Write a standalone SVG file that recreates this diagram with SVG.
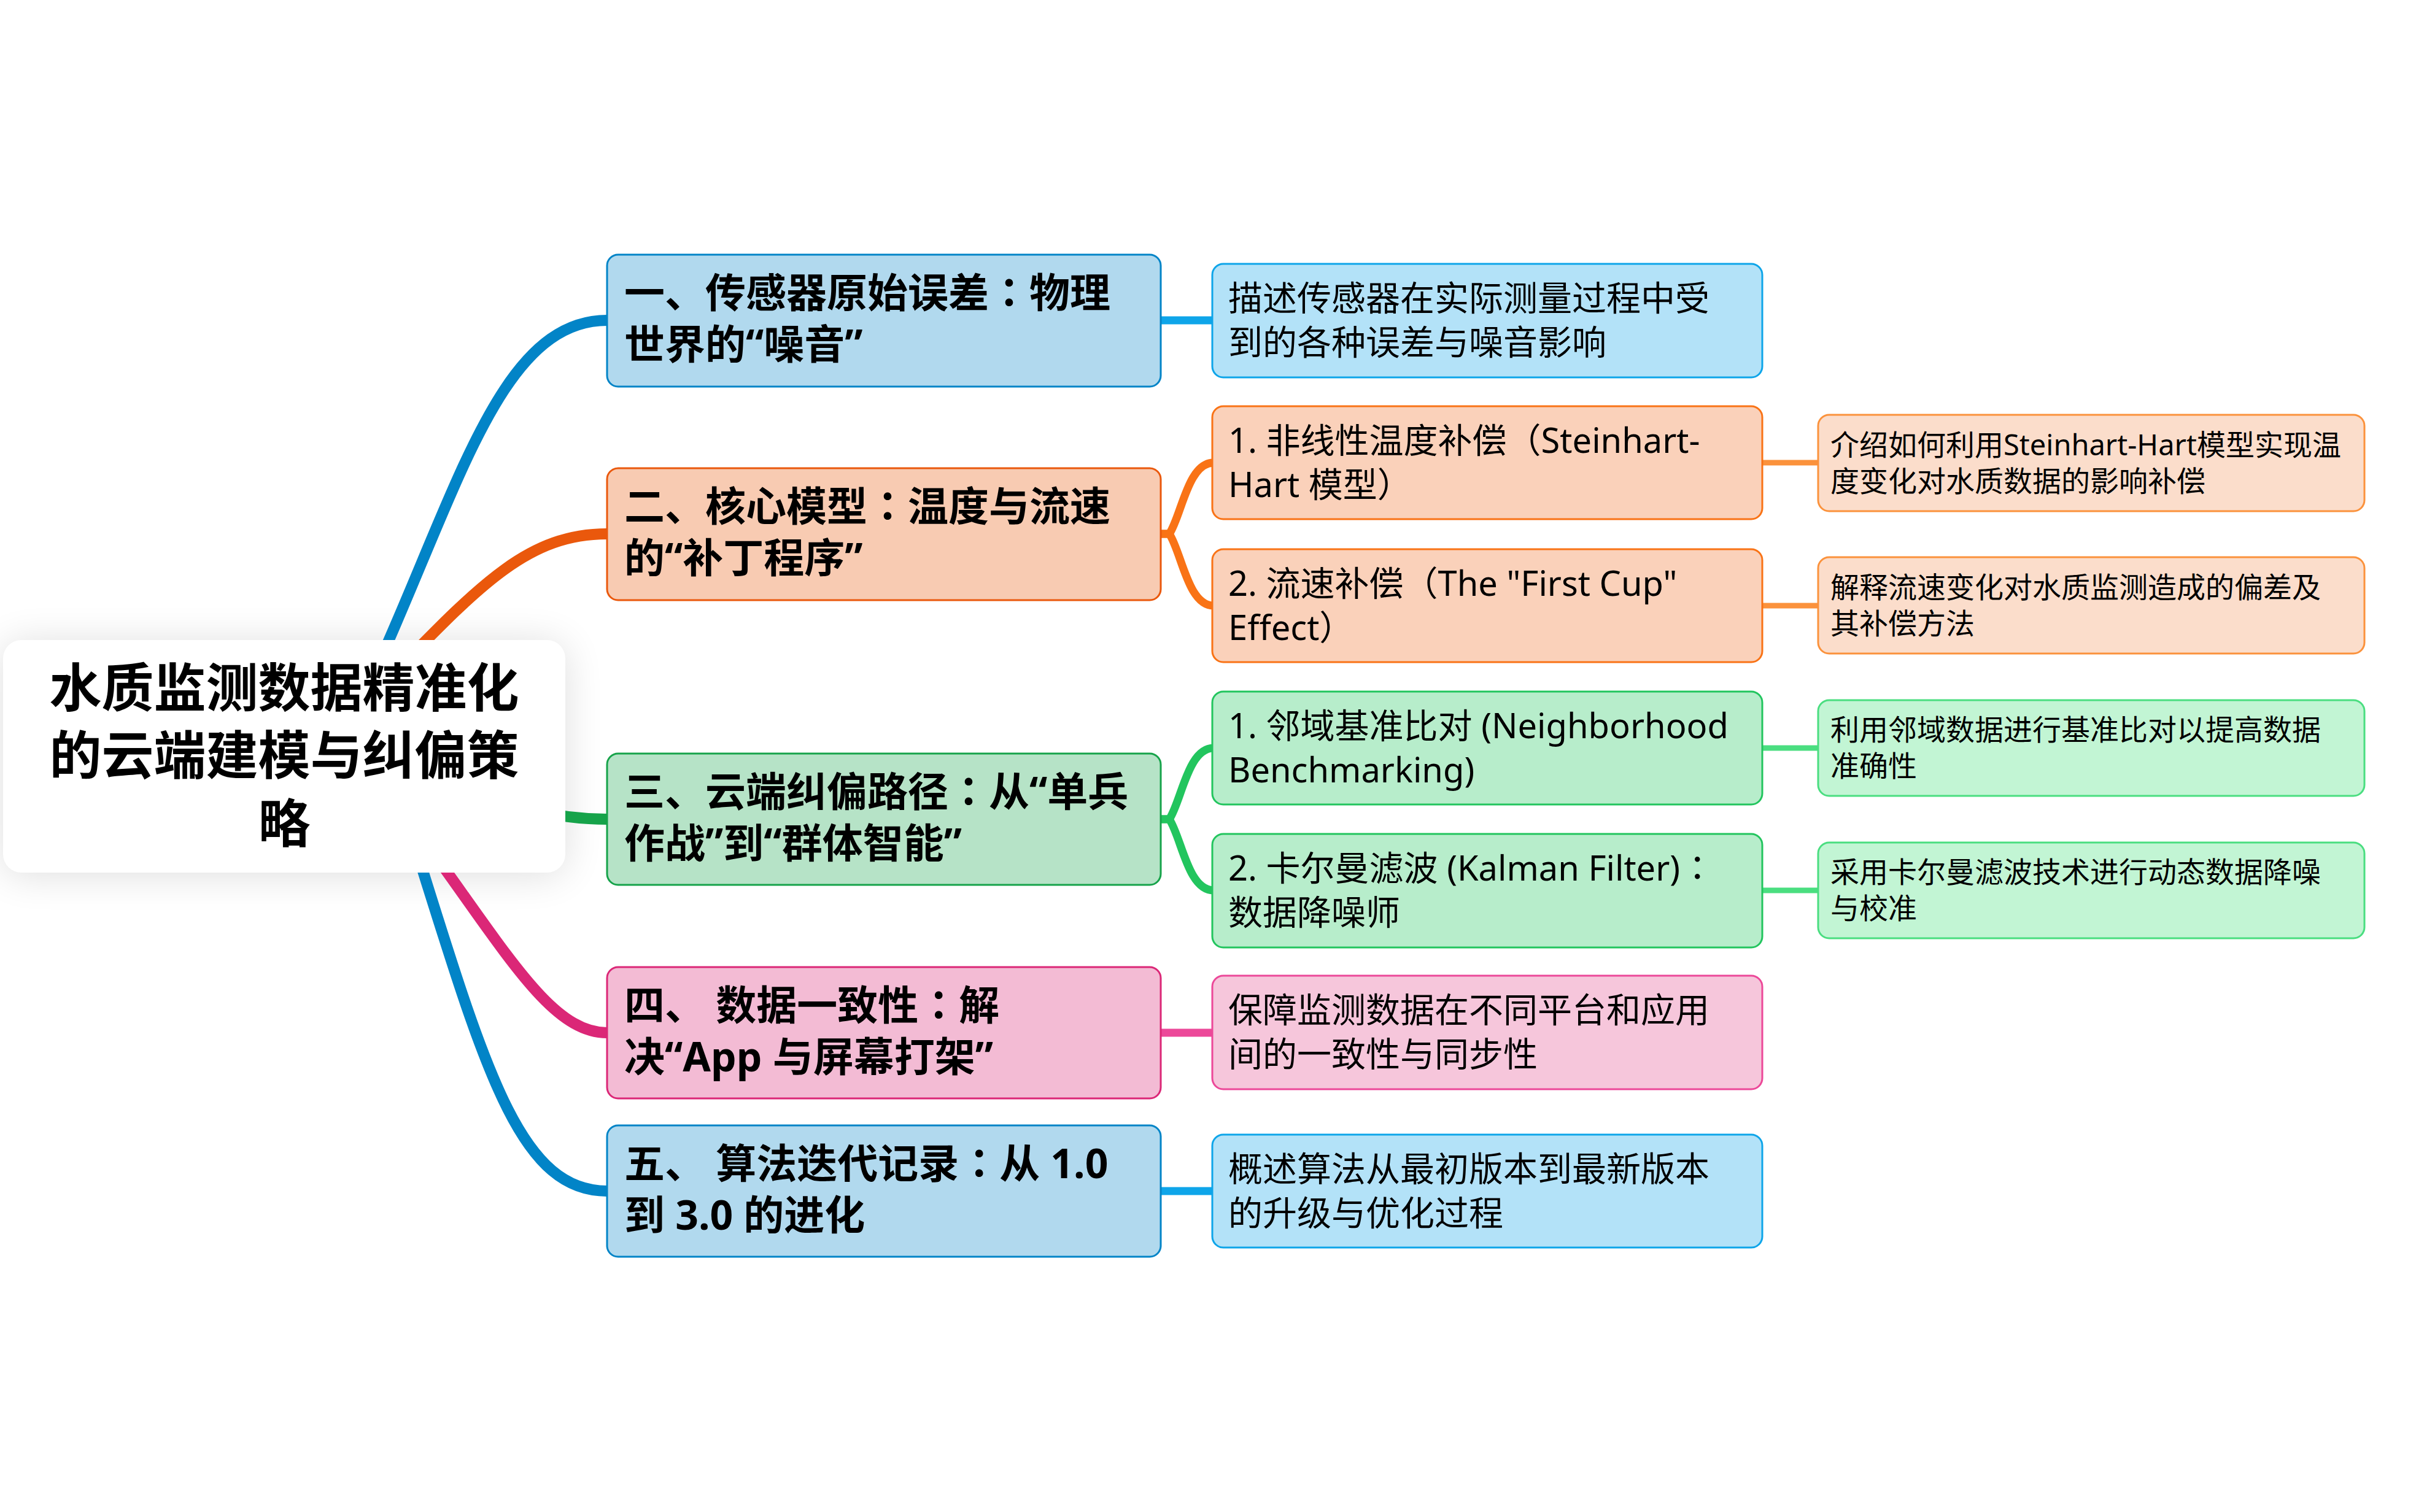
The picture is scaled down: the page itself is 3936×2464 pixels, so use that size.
<svg xmlns="http://www.w3.org/2000/svg" width="3936" height="2464" viewBox="0 0 3936 2464">
<defs>
<filter id="softShadow" x="-30%" y="-40%" width="160%" height="180%"><feGaussianBlur stdDeviation="32"/></filter>
</defs>
<style>
.bg{fill:#ffffff}
.c0{fill:none;stroke-width:18;stroke-linecap:butt}
.c1{fill:none;stroke-width:13;stroke-linecap:butt}
.c2{fill:none;stroke-width:9;stroke-linecap:butt}
.box{stroke-width:3}
.root-t{font-family:"Noto Sans CJK SC","Noto Sans",sans-serif;font-weight:700;font-size:85px;fill:#000;text-anchor:middle}
.t1{font-family:"Noto Sans","Noto Sans CJK SC",sans-serif;font-weight:700;font-size:66px;fill:#000}
.t2{font-family:"Noto Sans","Noto Sans CJK SC",sans-serif;font-weight:400;font-size:56px;fill:#000}
.t3{font-family:"Noto Sans","Noto Sans CJK SC",sans-serif;font-weight:400;font-size:47px;fill:#000}
.cc{font-family:"Noto Sans CJK TC","Noto Sans CJK SC",sans-serif}
.blue1{fill:#B1D9EE;stroke:#0284C7}
.orange1{fill:#F8CBB2;stroke:#EA580C}
.green1{fill:#B6E3C7;stroke:#16A34A}
.pink1{fill:#F3BBD4;stroke:#DB2777}
.blue2{fill:#B3E2F8;stroke:#0EA5E9}
.orange2{fill:#FAD1BA;stroke:#F97316}
.green2{fill:#B7EDCB;stroke:#22C55E}
.pink2{fill:#F6C6DB;stroke:#EC4899}
.orange3{fill:#FBDDCB;stroke:#FB923C}
.green3{fill:#C2F5D4;stroke:#4ADE80}
</style>
<rect class="bg" x="0" y="0" width="3936" height="2464"/>
<rect id="root-shadow" x="5" y="1047" width="916" height="379" rx="30" fill="#000" opacity="0.13" filter="url(#softShadow)"/>
<g id="connectors">
  <path class="c0" stroke="#0284C7" d="M540 1240 C730 880 790 522 989 522"/>
  <path class="c0" stroke="#EA580C" d="M560 1180 C760 980 840 870 989 870"/>
  <path class="c0" stroke="#16A34A" d="M463 1232 C700 1232 800 1335 989 1335"/>
  <path class="c0" stroke="#DB2777" d="M600 1250 C800 1500 880 1683 989 1683"/>
  <path class="c0" stroke="#0284C7" d="M630 1232 C780 1700 830 1941 989 1941"/>
  <path class="c1" stroke="#0EA5E9" d="M1890 522 L1977 522"/>
  <path class="c1" stroke="#F97316" d="M1890 870 L1905 870 C1925 840 1935 754 1977 754"/>
  <path class="c1" stroke="#F97316" d="M1890 870 L1905 870 C1925 900 1935 987 1977 987"/>
  <path class="c1" stroke="#22C55E" d="M1890 1335 L1905 1335 C1925 1305 1935 1219 1977 1219"/>
  <path class="c1" stroke="#22C55E" d="M1890 1335 L1905 1335 C1925 1365 1935 1451 1977 1451"/>
  <path class="c1" stroke="#EC4899" d="M1890 1683 L1977 1683"/>
  <path class="c1" stroke="#0EA5E9" d="M1890 1941 L1977 1941"/>
  <path class="c2" stroke="#FB923C" d="M2869 754 L2964 754"/>
  <path class="c2" stroke="#FB923C" d="M2869 987 L2964 987"/>
  <path class="c2" stroke="#4ADE80" d="M2869 1219 L2964 1219"/>
  <path class="c2" stroke="#4ADE80" d="M2869 1451 L2964 1451"/>
</g>
<g id="root">
  <rect x="5" y="1043" width="916" height="379" rx="30" fill="#ffffff"/>
  <text class="root-t" x="463" y="1152">水质监测数据精准化<tspan x="463" dy="110">的云端建模与纠偏策</tspan><tspan x="463" dy="111">略</tspan></text>
</g>
<g id="n1">
  <rect class="box blue1" x="989" y="415" width="902" height="215" rx="18"/>
  <text class="t1" x="1017" y="501">一、传感器原始误差<tspan class="cc">：</tspan>物理</text>
  <text class="t1" x="1017" y="585">世界的“噪音”</text>
</g>
<g id="n2">
  <rect class="box orange1" x="989" y="763" width="902" height="215" rx="18"/>
  <text class="t1" x="1017" y="849">二、核心模型<tspan class="cc">：</tspan>温度与流速</text>
  <text class="t1" x="1017" y="933">的“补丁程序”</text>
</g>
<g id="n3">
  <rect class="box green1" x="989" y="1228" width="902" height="214" rx="18"/>
  <text class="t1" x="1017" y="1314">三、云端纠偏路径<tspan class="cc">：</tspan>从“单兵</text>
  <text class="t1" x="1017" y="1398">作战”到“群体智能”</text>
</g>
<g id="n4">
  <rect class="box pink1" x="989" y="1576" width="902" height="214" rx="18"/>
  <text class="t1" x="1017" y="1662">四、 数据一致性<tspan class="cc">：</tspan>解</text>
  <text class="t1" x="1017" y="1746">决“App 与屏幕打架”</text>
</g>
<g id="n5">
  <rect class="box blue1" x="989" y="1834" width="902" height="214" rx="18"/>
  <text class="t1" x="1017" y="1920">五、 算法迭代记录<tspan class="cc">：</tspan>从 1.0</text>
  <text class="t1" x="1017" y="2004">到 3.0 的进化</text>
</g>
<g id="c1">
  <rect class="box blue2" x="1975" y="430" width="896" height="185" rx="18"/>
  <text class="t2" x="2001" y="506">描述传感器在实际测量过程中受</text>
  <text class="t2" x="2001" y="578">到的各种误差与噪音影响</text>
</g>
<g id="c2a">
  <rect class="box orange2" x="1975" y="662" width="896" height="184" rx="18"/>
  <text class="t2" x="2001" y="738">1. 非线性温度补偿（Steinhart-</text>
  <text class="t2" x="2001" y="810">Hart 模型）</text>
</g>
<g id="c2b">
  <rect class="box orange2" x="1975" y="895" width="896" height="184" rx="18"/>
  <text class="t2" x="2001" y="971">2. 流速补偿（The "First Cup"</text>
  <text class="t2" x="2001" y="1043">Effect）</text>
</g>
<g id="c3a">
  <rect class="box green2" x="1975" y="1127" width="896" height="184" rx="18"/>
  <text class="t2" x="2001" y="1203">1. 邻域基准比对 (Neighborhood</text>
  <text class="t2" x="2001" y="1275">Benchmarking)</text>
</g>
<g id="c3b">
  <rect class="box green2" x="1975" y="1359" width="896" height="185" rx="18"/>
  <text class="t2" x="2001" y="1435">2. 卡尔曼滤波 (Kalman Filter)<tspan class="cc">：</tspan></text>
  <text class="t2" x="2001" y="1507">数据降噪师</text>
</g>
<g id="c4">
  <rect class="box pink2" x="1975" y="1590" width="896" height="185" rx="18"/>
  <text class="t2" x="2001" y="1666">保障监测数据在不同平台和应用</text>
  <text class="t2" x="2001" y="1738">间的一致性与同步性</text>
</g>
<g id="c5">
  <rect class="box blue2" x="1975" y="1849" width="896" height="184" rx="18"/>
  <text class="t2" x="2001" y="1925">概述算法从最初版本到最新版本</text>
  <text class="t2" x="2001" y="1997">的升级与优化过程</text>
</g>
<g id="d2a">
  <rect class="box orange3" x="2962" y="676" width="890" height="157" rx="18"/>
  <text class="t3" x="2982" y="742">介绍如何利用Steinhart-Hart模型实现温</text>
  <text class="t3" x="2982" y="801">度变化对水质数据的影响补偿</text>
</g>
<g id="d2b">
  <rect class="box orange3" x="2962" y="908" width="890" height="157" rx="18"/>
  <text class="t3" x="2982" y="974">解释流速变化对水质监测造成的偏差及</text>
  <text class="t3" x="2982" y="1033">其补偿方法</text>
</g>
<g id="d3a">
  <rect class="box green3" x="2962" y="1141" width="890" height="156" rx="18"/>
  <text class="t3" x="2982" y="1206">利用邻域数据进行基准比对以提高数据</text>
  <text class="t3" x="2982" y="1265">准确性</text>
</g>
<g id="d3b">
  <rect class="box green3" x="2962" y="1373" width="890" height="156" rx="18"/>
  <text class="t3" x="2982" y="1438">采用卡尔曼滤波技术进行动态数据降噪</text>
  <text class="t3" x="2982" y="1497">与校准</text>
</g>
</svg>
